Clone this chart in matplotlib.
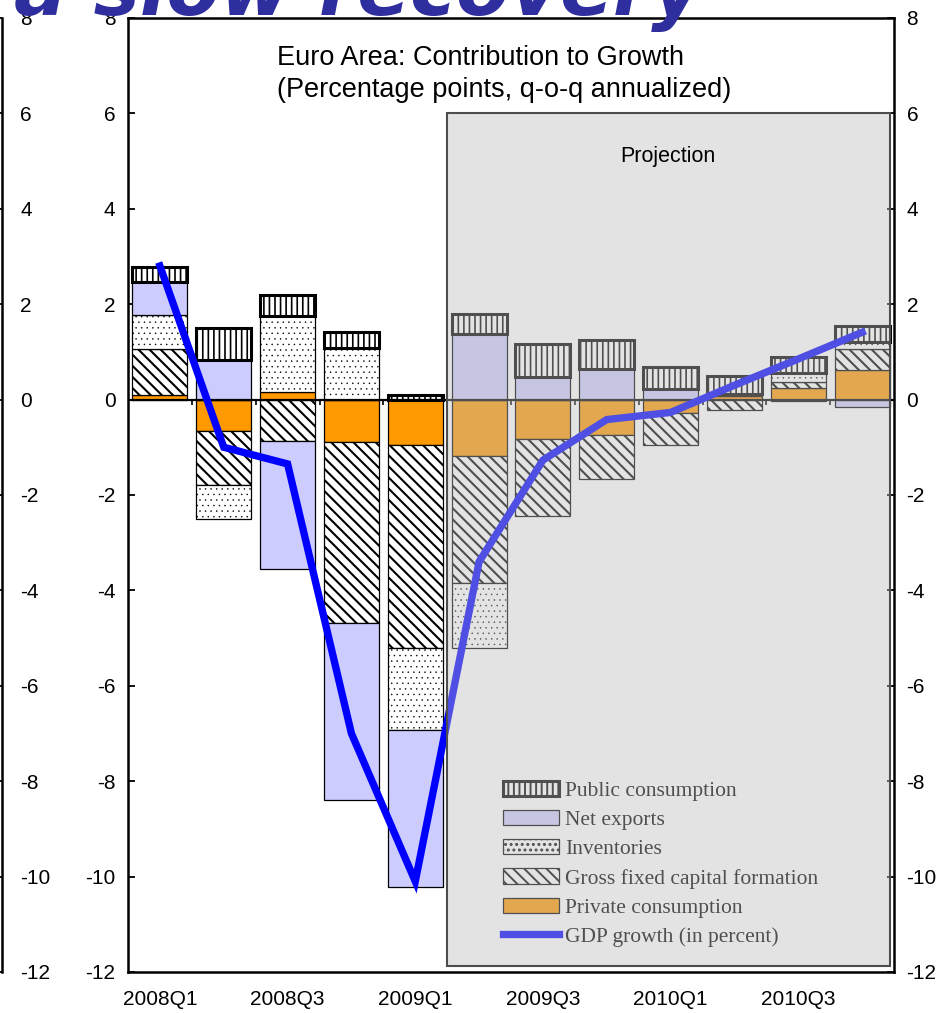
import matplotlib
matplotlib.use("Agg")
from matplotlib import pyplot as plt
from matplotlib.patches import Rectangle
import numpy as np

quarters = ["2008Q1", "2008Q2", "2008Q3", "2008Q4", "2009Q1", "2009Q2",
            "2009Q3", "2009Q4", "2010Q1", "2010Q2", "2010Q3", "2010Q4"]
private_cons = [0.10, -0.66, 0.15, -0.90, -0.96, -1.19, -0.83, -0.74, -0.29, 0.07, 0.25, 0.62]
gfcf = [0.95, -1.14, -0.86, -3.78, -4.25, -2.65, -1.62, -0.93, -0.66, -0.21, 0.12, 0.44]
inventories = [0.72, -0.70, 1.60, 1.09, -1.72, -1.36, 0.0, 0.0, 0.0, 0.0, 0.19, 0.14]
net_exports = [0.70, 0.83, -2.69, -3.72, -3.28, 1.37, 0.48, 0.65, 0.23, 0.05, -0.03, -0.15]
public_cons = [0.31, 0.67, 0.45, 0.32, 0.10, 0.42, 0.69, 0.60, 0.45, 0.37, 0.34, 0.35]
gdp_growth = [2.8, -1.0, -1.35, -7.0, -10.1, -3.4, -1.27, -0.42, -0.27, 0.3, 0.85, 1.41]
first_projected = "2009Q2"

plt.rcParams['font.family'] = ['Liberation Sans', 'DejaVu Sans']
plt.rcParams['axes.unicode_minus'] = False
plt.rcParams['hatch.linewidth'] = 1.4

fig = plt.figure(figsize=(9.51, 10.13), dpi=100)
ax = fig.add_axes([0.1346, 0.0405, 0.8055, 0.9418])
x = np.arange(len(quarters))
width = 0.86

# name, values, face, hatch, edge width, hatch width
series = [("Private consumption", private_cons, "#FF9900", "", 0.9, 1.4),
          ("Gross fixed capital formation", gfcf, "white", "\\\\\\", 0.9, 1.5),
          ("Inventories", inventories, "white", "...", 0.9, 0.3),
          ("Net exports", net_exports, "#CCCCFF", "", 0.9, 1.4),
          ("Public consumption", public_cons, "white", "|||", 2.2, 1.2)]

pos = np.zeros(len(x))
neg = np.zeros(len(x))
handles = {}
for name, vals, fc, hatch, lw, hlw in series:
    v = np.array(vals)
    bottom = np.where(v >= 0, pos, neg)
    keep = v != 0
    with plt.rc_context({'hatch.linewidth': hlw}):
        handles[name] = ax.bar(x[keep], v[keep], width, bottom=bottom[keep], color=fc,
                               hatch=hatch, edgecolor="black", linewidth=lw, zorder=2)
    pos += np.where(v > 0, v, 0)
    neg += np.where(v < 0, v, 0)

line, = ax.plot(x, gdp_growth, color="#0000FF", lw=5.3, zorder=3,
                solid_joinstyle="miter")

ax.axhline(0, color="black", lw=1.6, zorder=2.6)
ax.vlines(x[1:] - 0.5, -0.12, 0, color="black", lw=1.2, zorder=2.6)

order = ["Public consumption", "Net exports", "Inventories",
         "Gross fixed capital formation", "Private consumption"]
leg = ax.legend([handles[n] for n in order] + [line],
                order + ["GDP growth (in percent)"],
                loc="upper left", bbox_to_anchor=(0.49, 0.2), frameon=False,
                borderaxespad=0, borderpad=0, handlelength=2.6, handleheight=0.7,
                handletextpad=0.25, labelspacing=0.42,
                prop={'family': 'Liberation Serif', 'size': 15.5})
leg.set_zorder(4)

# projection shading laid over the forecast quarters
p0 = quarters.index(first_projected) - 0.5
ax.add_patch(Rectangle((p0, -11.87), 11.43 - p0, 17.87,
                       facecolor=(0.745, 0.745, 0.745, 0.42),
                       edgecolor="#4d4d4d", lw=1.5, zorder=5))
ax.text(7.95, 5.1, "Projection", ha="center", va="center", fontsize=15.5, zorder=6)

ax.text(0.1945, 0.972, "Euro Area: Contribution to Growth\n(Percentage points, q-o-q annualized)",
        transform=ax.transAxes, ha="left", va="top", fontsize=19.5, linespacing=1.3)

ax.set_xlim(-0.5, 11.5)
ax.set_ylim(-12, 8)
ax.set_yticks(range(-12, 9, 2))
ax.set_xticks(x[::2])
ax.set_xticklabels(quarters[::2], fontsize=15)
ax.tick_params(axis="x", length=0, pad=13)
ax.tick_params(axis="y", direction="in", left=True, right=True, labelleft=True,
               labelright=True, length=5, width=1.3, labelsize=15, pad=9)
for s in ax.spines.values():
    s.set_linewidth(1.8)

# neighbouring panel, mostly cut off at the left edge
ax0 = fig.add_axes([-0.5, 0.0405, 0.5 + 2 / 951, 0.9418])
ax0.set_ylim(-12, 8)
ax0.set_yticks(range(-12, 9, 2))
ax0.yaxis.tick_right()
ax0.set_xticks([])
ax0.tick_params(axis="y", direction="in", length=5, width=1.3, labelsize=15, pad=13)
for k in ["top", "bottom", "left"]:
    ax0.spines[k].set_visible(False)
ax0.spines["right"].set_linewidth(1.8)

fig.text(0.738, 0.9852, "a slow recovery", ha="right", va="baseline", fontsize=56,
         fontweight="bold", fontstyle="italic", color="#2E2E9E", family="DejaVu Sans")

fig.savefig("out.png", dpi=100)
